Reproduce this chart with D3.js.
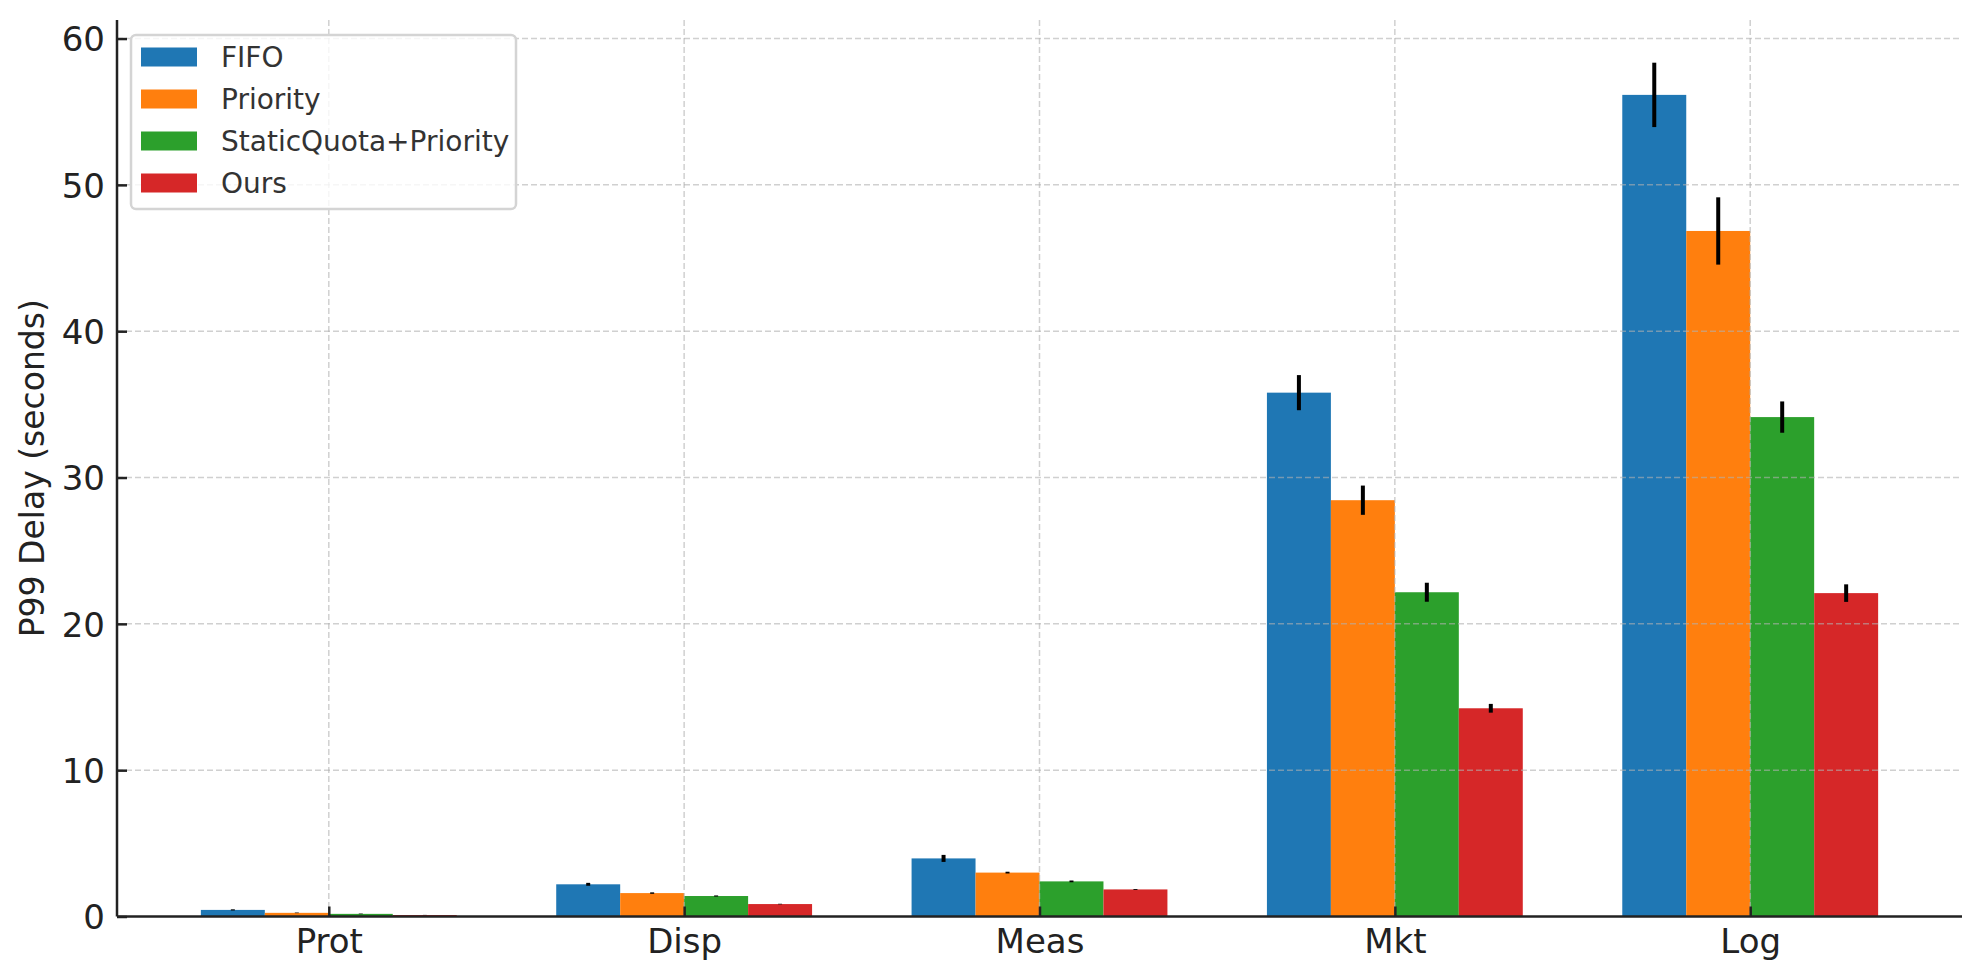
<!DOCTYPE html>
<html>
<head>
<meta charset="utf-8">
<script src="https://cdn.jsdelivr.net/npm/d3@7"></script>
<style>
  html, body { margin: 0; padding: 0; background: #fff; }
  svg { display: block; font-family: "DejaVu Sans", sans-serif; }
</style>
</head>
<body>
<svg id="chart" width="1979" height="980"></svg>
<script>
const categories = ["Prot", "Disp", "Meas", "Mkt", "Log"];
const seriesNames = ["FIFO", "Priority", "StaticQuota+Priority", "Ours"];
const colors = ["#1f77b4", "#ff7f0e", "#2ca02c", "#d62728"];

const fifo      = [0.45, 2.2, 3.97, 35.8, 56.15];
const priority  = [0.25, 1.6, 3.0, 28.45, 46.85];
const staticQP  = [0.18, 1.4, 2.4, 22.16, 34.13];
const ours      = [0.10, 0.85, 1.85, 14.23, 22.1];

const fifoErr     = [0.04, 0.1, 0.24, 1.2, 2.2];
const priorityErr = [0.02, 0.05, 0.06, 1.0, 2.3];
const staticErr   = [0.02, 0.04, 0.06, 0.65, 1.07];
const oursErr     = [0.01, 0.02, 0.03, 0.3, 0.6];

const yTicks = [0, 10, 20, 30, 40, 50, 60];
const yLabel = "P99 Delay (seconds)";

const values = [fifo, priority, staticQP, ours];
const errors = [fifoErr, priorityErr, staticErr, oursErr];
const barWidth = 0.18;

(function () {
const svg = d3.select("#chart");
const mLeft = 117, mRight = 1962, mTop = 20, mBottom = 916.5;

const offsets = seriesNames.map((_, i) => (i - (seriesNames.length - 1) / 2) * barWidth);
const xmin = offsets[0] - barWidth / 2;
const xmax = categories.length - 1 + offsets[offsets.length - 1] + barWidth / 2;
const xpad = (xmax - xmin) * 0.05;
const x = d3.scaleLinear().domain([xmin - xpad, xmax + xpad]).range([mLeft, mRight]);

let ymaxData = 0;
values.forEach((s, i) => s.forEach((v, j) => { ymaxData = Math.max(ymaxData, v + errors[i][j]); }));
const y = d3.scaleLinear().domain([0, ymaxData * 1.05]).range([mBottom, mTop]);

const data = [];
values.forEach((s, i) => s.forEach((v, j) => data.push({ s: i, c: j, v, e: errors[i][j] })));

svg.append("g").selectAll("rect").data(data).join("rect")
  .attr("x", d => x(d.c + offsets[d.s] - barWidth / 2))
  .attr("width", d => x(d.c + offsets[d.s] + barWidth / 2) - x(d.c + offsets[d.s] - barWidth / 2))
  .attr("y", d => y(d.v))
  .attr("height", d => y(0) - y(d.v))
  .attr("fill", d => colors[d.s]);

const grid = svg.append("g").attr("stroke", "#b0b0b0").attr("stroke-opacity", 0.6)
  .attr("stroke-width", 1.5).attr("stroke-dasharray", "6,3");
grid.selectAll("line.h").data(yTicks.filter(t => t > 0)).join("line")
  .attr("class", "h")
  .attr("x1", mLeft).attr("x2", mRight)
  .attr("y1", d => y(d)).attr("y2", d => y(d));
grid.selectAll("line.v").data(categories.map((_, i) => i)).join("line")
  .attr("class", "v")
  .attr("x1", d => x(d)).attr("x2", d => x(d))
  .attr("y1", mTop).attr("y2", mBottom);

svg.append("g").selectAll("line").data(data).join("line")
  .attr("x1", d => x(d.c + offsets[d.s])).attr("x2", d => x(d.c + offsets[d.s]))
  .attr("y1", d => y(d.v - d.e)).attr("y2", d => y(d.v + d.e))
  .attr("stroke", "#000").attr("stroke-width", 4);

const yAxis = d3.axisLeft(y).tickValues(yTicks).tickSizeInner(-10).tickSizeOuter(0).tickPadding(12);
const gy = svg.append("g").attr("transform", `translate(${mLeft},0)`).call(yAxis);
const xAxis = d3.axisBottom(x).tickValues(categories.map((_, i) => i))
  .tickFormat(i => categories[i]).tickSizeInner(-10).tickSizeOuter(0).tickPadding(11);
const gx = svg.append("g").attr("transform", `translate(0,${mBottom})`).call(xAxis);

[gx, gy].forEach(g => {
  g.select(".domain").attr("stroke", "#222").attr("stroke-width", 2.5);
  g.selectAll(".tick line").attr("stroke", "#222").attr("stroke-width", 2.5);
  g.selectAll(".tick text").attr("fill", "#222").attr("font-size", 34)
    .attr("font-family", "DejaVu Sans, sans-serif");
});
gy.select(".domain").attr("d", `M0,${mBottom}V${mTop}`);
gx.select(".domain").attr("d", `M${mLeft},0H${mRight}`);
gy.selectAll(".tick text").attr("dy", "0.36em");
gx.selectAll(".tick text").attr("dy", "0.75em");

svg.append("text")
  .attr("transform", `translate(44,${(mTop + mBottom) / 2}) rotate(-90)`)
  .attr("text-anchor", "middle")
  .attr("font-size", 33).attr("fill", "#222")
  .text(yLabel);

const lg = svg.append("g");
lg.append("rect").attr("x", 131).attr("y", 35).attr("width", 385).attr("height", 174)
  .attr("rx", 5).attr("fill", "#fff").attr("fill-opacity", 0.8)
  .attr("stroke", "#d4d4d4").attr("stroke-width", 2.5);
const rows = lg.selectAll("g.row").data(seriesNames).join("g")
  .attr("class", "row")
  .attr("transform", (d, i) => `translate(0,${57 + i * 42})`);
rows.append("rect").attr("x", 141).attr("y", -9.5).attr("width", 56).attr("height", 19)
  .attr("fill", (d, i) => colors[i]);
rows.append("text").attr("x", 221).attr("y", 0).attr("dy", "0.36em")
  .attr("font-size", 28).attr("fill", "#333").text(d => d);
})();
</script>
</body>
</html>
